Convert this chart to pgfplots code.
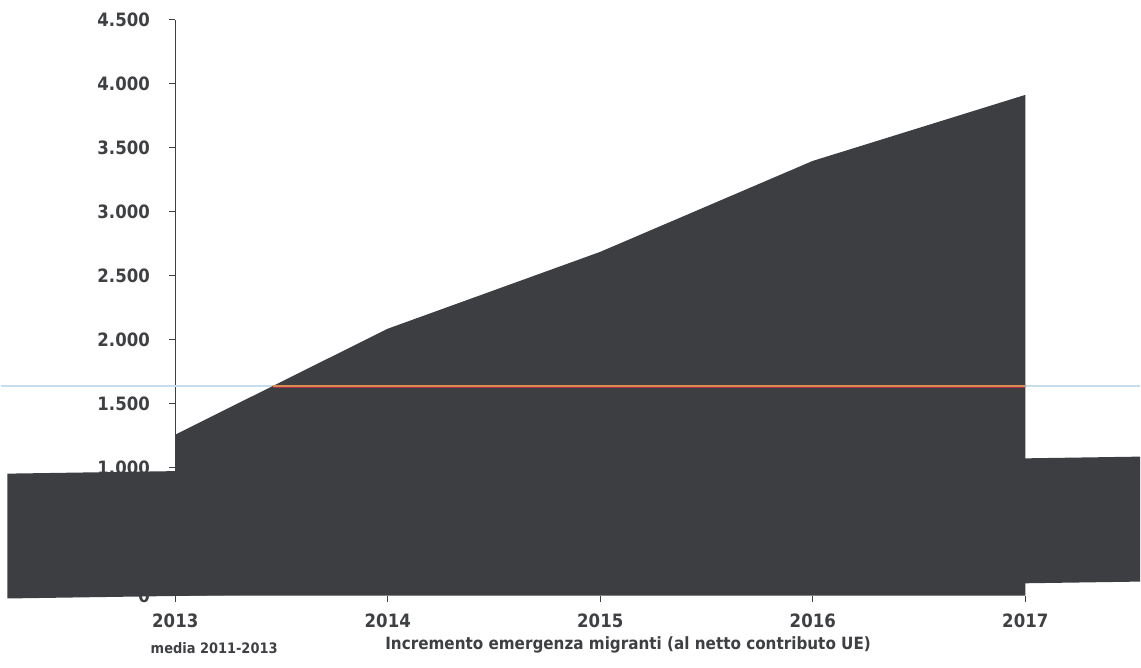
\documentclass[border=0pt]{standalone}
\usepackage{pgfplots}
\pgfplotsset{compat=1.18}
\usepackage{fontspec}
\setmainfont{DejaVu Sans Condensed}

\definecolor{slab}{RGB}{60,62,66}
\definecolor{txt}{RGB}{62,64,68}
\definecolor{avgline}{RGB}{196,222,238}
\definecolor{incline}{RGB}{216,140,82}
\definecolor{incred}{RGB}{170,45,70}

\begin{document}
\begin{tikzpicture}
\begin{axis}[
  set layers,
  at={(174bp,72bp)}, anchor=south west,
  scale only axis, width=965bp, height=577bp,
  xmin=2013, xmax=2017.53, ymin=0, ymax=4500,
  clip=false,
  axis x line*=bottom, axis y line*=left,
  x axis line style={draw=none},
  y axis line style={draw=txt, line width=1.2bp},
  tick align=outside,
  major tick length=6bp,
  tick style={draw=txt, line width=1bp},
  xtick={2013,2014,2015,2016,2017},
  xticklabels={2013,2014,2015,2016,2017},
  ytick={0,500,1000,1500,2000,2500,3000,3500,4000,4500},
  /pgf/number format/assume math mode=true,
  /pgf/number format/1000 sep={.},
  tick label style={font=\fontsize{18.5}{18.5}\selectfont\bfseries, text=txt},
  xticklabel style={yshift=-9bp},
  yticklabel style={xshift=-16bp},
]
% average 2011-2013, full width
\addplot[avgline, line width=2bp] coordinates {(2012.18,1640) (2017.54,1640)};
% increment area
\addplot[fill=slab, draw=none] coordinates {
  (2013,0) (2013,1258) (2014,2086) (2015,2687) (2016,3398) (2017,3914) (2017,0) (2013,0)};
% lower band
\addplot[fill=slab, draw=none] coordinates {
  (2012.21,-23) (2012.21,953) (2017.54,1086) (2017.54,109) (2012.21,-23)};
% average level across the increment years
\addplot[incred, line width=1bp] coordinates {(2013.46,1628) (2017,1628)};
\addplot[incline, line width=2bp] coordinates {(2013.46,1638) (2017,1638)};
\end{axis}
\path (0,0) rectangle (1141bp,669bp);
\node[font=\fontsize{14.5}{14.5}\selectfont\bfseries, text=txt] at (213bp,19bp) {media 2011-2013};
\node[font=\fontsize{17}{17}\selectfont\bfseries, text=txt, inner sep=0pt] at (628bp,23bp) {Incremento emergenza migranti (al netto contributo UE)};
\end{tikzpicture}
\end{document}
